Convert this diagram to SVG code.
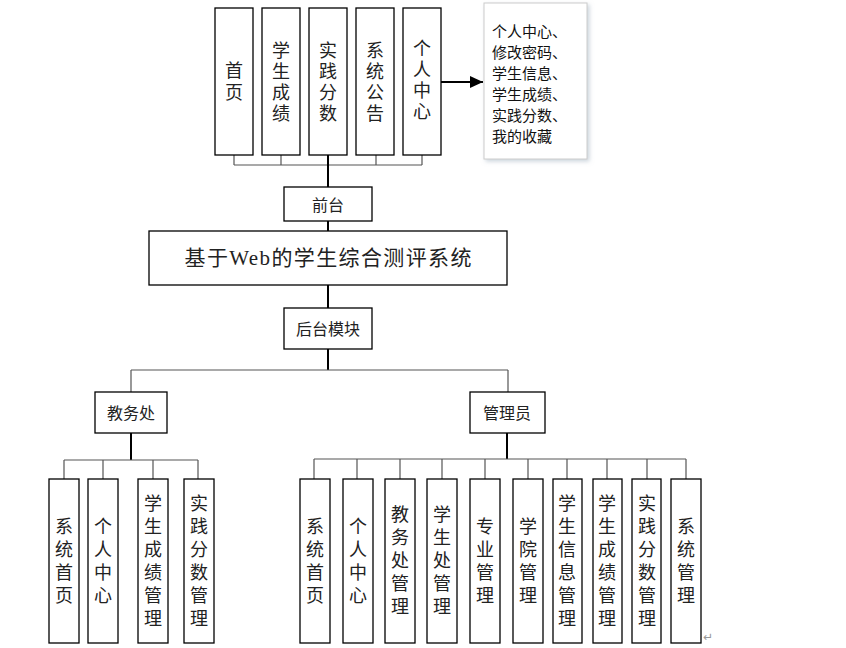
<svg xmlns="http://www.w3.org/2000/svg" width="846" height="648" viewBox="0 0 846 648">
<defs>
<style>
.box{fill:#fff;stroke:#000;stroke-width:1.3}
.t{font-family:"Noto Sans CJK SC",sans-serif;font-size:18px;fill:#222;text-anchor:middle;dominant-baseline:central}
.v{font-family:"Noto Sans CJK SC",sans-serif;font-size:18px;fill:#222;text-anchor:middle;writing-mode:vertical-rl;letter-spacing:3px}
.vb{letter-spacing:5px}
.t2{font-family:"Noto Sans CJK SC",sans-serif;font-size:15px;fill:#111;dominant-baseline:central}
.ln{stroke:#555;stroke-width:1.2;fill:none}
.tr{stroke:#000;stroke-width:2;fill:none}
</style>
<marker id="ah" markerWidth="14" markerHeight="14" refX="13" refY="7" orient="auto" markerUnits="userSpaceOnUse">
<path d="M0,1 L13,7 L0,13 z" fill="#000"/>
</marker>
<filter id="sh" x="-10%" y="-10%" width="130%" height="130%">
<feDropShadow dx="2" dy="2" stdDeviation="2" flood-color="#9ab" flood-opacity="0.5"/>
</filter>
</defs>
<rect width="846" height="648" fill="#fff"/>
<g id="connectors">
<path class="ln" d="M234,155 V165 M281,155 V165 M376,155 V165 M422,155 V165 M234,165 H422"/>
<path class="tr" d="M328,155 V187"/>
<path class="tr" d="M328,221 V231"/>
<path class="tr" d="M328,285 V308"/>
<path class="tr" d="M328,349 V370"/>
<path class="ln" d="M131,370 H508 M131,370 V392 M508,370 V392"/>
<path class="tr" d="M131,433 V460"/>
<path class="ln" d="M64,460 H198 M64,460 V479 M103,460 V479 M153,460 V479 M198,460 V479"/>
<path class="tr" d="M507,433 V459"/>
<path class="ln" d="M314,459 H686 M314,459 V479 M357,459 V479 M400,459 V479 M442,459 V479 M485,459 V479 M528,459 V479 M567,459 V479 M607,459 V479 M647,459 V479 M686,459 V479"/>
<path class="tr" d="M441,82 H483" marker-end="url(#ah)"/>
</g>
<g id="n-shouye"><rect class="box" x="215" y="8" width="38" height="147"/><text class="v" x="234" y="83" style="letter-spacing:4px">首页</text></g>
<g id="n-xscj"><rect class="box" x="262" y="8" width="38" height="147"/><text class="v" x="281" y="83">学生成绩</text></g>
<g id="n-sjfs"><rect class="box" x="309" y="8" width="38" height="147"/><text class="v" x="328" y="83">实践分数</text></g>
<g id="n-xtgg"><rect class="box" x="356" y="8" width="38" height="147"/><text class="v" x="375" y="83">系统公告</text></g>
<g id="n-grzx"><rect class="box" x="403" y="8" width="38" height="147"/><text class="v" x="422" y="81">个人中心</text></g>
<g id="n-note"><rect x="484" y="3" width="103" height="156" fill="#fff" stroke="#ccc" stroke-width="1" filter="url(#sh)"/>
<text class="t2" x="492" y="30">个人中心、</text>
<text class="t2" x="492" y="51">修改密码、</text>
<text class="t2" x="492" y="72">学生信息、</text>
<text class="t2" x="492" y="93">学生成绩、</text>
<text class="t2" x="492" y="114">实践分数、</text>
<text class="t2" x="492" y="135">我的收藏</text></g>
<g id="n-qiantai"><rect class="box" x="284" y="187" width="88" height="34"/><text class="t" x="328" y="204" style="font-size:16px">前台</text></g>
<g id="n-main"><rect class="box" x="149" y="231" width="358" height="54"/><text x="328" y="258" style="font-family:'Liberation Serif','Noto Sans CJK SC',serif;font-size:21px;fill:#222;text-anchor:middle;dominant-baseline:central" textLength="287" lengthAdjust="spacing">基于Web的学生综合测评系统</text></g>
<g id="n-houtai"><rect class="box" x="284" y="308" width="88" height="41"/><text class="t" x="328" y="328" style="font-size:16px">后台模块</text></g>
<g id="n-jwc"><rect class="box" x="95" y="392" width="72" height="41"/><text class="t" x="131" y="412" style="font-size:16px">教务处</text></g>
<g id="n-gly"><rect class="box" x="470" y="392" width="75" height="41"/><text class="t" x="507" y="412" style="font-size:16px">管理员</text></g>
<g id="l-xtsy"><rect class="box" x="49" y="479" width="30" height="164"/><text class="v vb" x="64" y="563">系统首页</text></g>
<g id="l-grzx"><rect class="box" x="88" y="479" width="30" height="164"/><text class="v vb" x="103" y="563">个人中心</text></g>
<g id="l-xscjgl"><rect class="box" x="138" y="479" width="30" height="164"/><text class="v vb" x="153" y="563">学生成绩管理</text></g>
<g id="l-sjfsgl"><rect class="box" x="184" y="479" width="30" height="164"/><text class="v vb" x="199" y="563">实践分数管理</text></g>
<g id="r-xtsy"><rect class="box" x="300" y="479" width="30" height="164"/><text class="v vb" x="315" y="563">系统首页</text></g>
<g id="r-grzx"><rect class="box" x="343" y="479" width="30" height="164"/><text class="v vb" x="358" y="563">个人中心</text></g>
<g id="r-jwcgl"><rect class="box" x="385" y="479" width="30" height="164"/><text class="v vb" x="400" y="563">教务处管理</text></g>
<g id="r-xscgl"><rect class="box" x="427" y="479" width="30" height="164"/><text class="v vb" x="442" y="563">学生处管理</text></g>
<g id="r-zygl"><rect class="box" x="470" y="479" width="30" height="164"/><text class="v vb" x="485" y="563">专业管理</text></g>
<g id="r-xygl"><rect class="box" x="513" y="479" width="30" height="164"/><text class="v vb" x="528" y="563">学院管理</text></g>
<g id="r-xsxxgl"><rect class="box" x="553" y="479" width="29" height="164"/><text class="v vb" x="567" y="563">学生信息管理</text></g>
<g id="r-xscjgl"><rect class="box" x="593" y="479" width="29" height="164"/><text class="v vb" x="607" y="563">学生成绩管理</text></g>
<g id="r-sjfsgl"><rect class="box" x="632" y="479" width="29" height="164"/><text class="v vb" x="647" y="563">实践分数管理</text></g>
<g id="r-xtgl"><rect class="box" x="671" y="479" width="30" height="164"/><text class="v vb" x="686" y="563">系统管理</text></g>
<text x="703" y="641" style="font-family:'DejaVu Sans',sans-serif;font-size:12px;fill:#999">↵</text>
</svg>
